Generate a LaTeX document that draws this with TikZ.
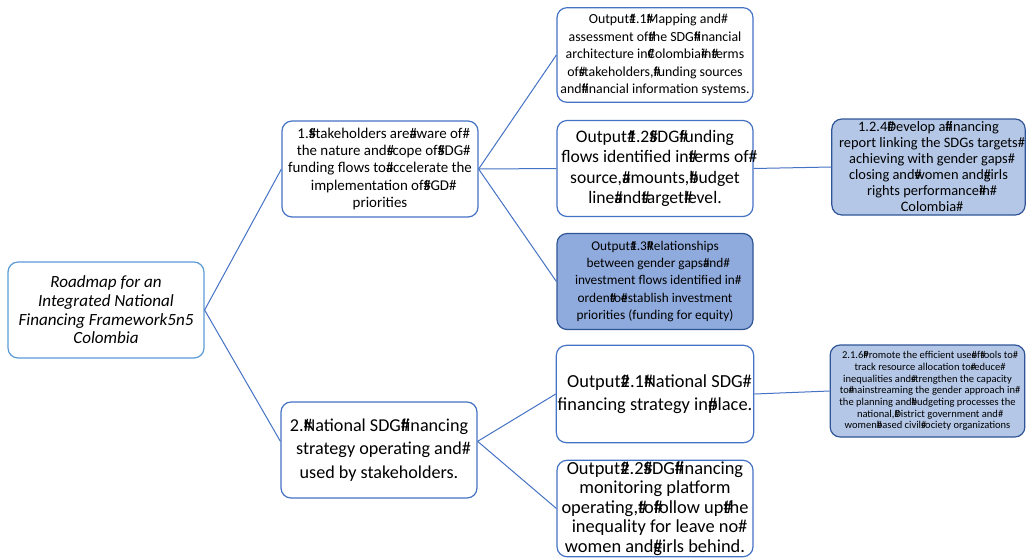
\documentclass[tikz,border=0pt]{standalone}
\usepackage{fontspec}
\setmainfont{Carlito}
\usetikzlibrary{positioning}
\definecolor{lineblue}{RGB}{68,114,196}
\definecolor{rootblue}{RGB}{91,155,213}
\definecolor{darkblue}{RGB}{47,85,151}
\definecolor{midfill}{RGB}{143,170,220}
\definecolor{lightfill}{RGB}{180,199,231}
\newcommand{\hx}{\rlap{\#}}

\begin{document}
\begin{tikzpicture}[x=0.75pt, y=-0.75pt,
    box/.style={draw=lineblue, line width=0.9pt, rounded corners=7.5pt, fill=white,
                align=center, inner sep=1pt, minimum width=147pt, minimum height=72pt},
    detail/.style={box, draw=darkblue, fill=lightfill},
    link/.style={draw=lineblue, line width=0.75pt}]
    \useasboundingbox (0,0) rectangle (1027,558);

    \node[box, draw=rootblue, font=\fontsize{12.8}{14}\selectfont\itshape] (root) at (106, 310)
        {Roadmap for an\\ Integrated National\\ Financing Framework5n5\\ Colombia};

    \node[box, font=\fontsize{11.2}{12.8}\selectfont] (res1) at (380, 169)
        {1.\hx Stakeholders are\hx aware of\hx\\ the nature and\hx scope of\hx SDG\hx\\ funding flows to\hx accelerate the\\ implementation of\hx SGD\hx\\ priorities};
    \node[box, font=\fontsize{13.6}{17.6}\selectfont] (res2) at (379, 450)
        {2.\hx National SDG\hx financing\\ strategy operating and\hx\\ used by stakeholders.};

    \node[box, minimum height=71pt, font=\fontsize{10.4}{13.1}\selectfont] (out11) at (655, 55)
        {Output\hx 1.1\hx Mapping and\hx\\ assessment of\hx the SDG\hx financial\\ architecture in\hx Colombia\hx in\hx terms\\ of\hx stakeholders,\hx funding sources\\ and\hx financial information systems.};
    \node[box, font=\fontsize{13.2}{15.4}\selectfont] (out12) at (655, 168.5)
        {Output\hx 1.2\hx SDG\hx funding\\ flows identified in\hx terms of\hx\\ source,\hx amounts,\hx budget\\ line\hx and\hx target\hx level.};
    \node[box, draw=darkblue, fill=midfill, font=\fontsize{10}{12.8}\selectfont] (out13) at (655, 281.5)
        {Output\hx 1.3\hx Relationships\\ between gender gaps\hx and\hx\\ investment flows identified in\hx\\ orden\hx to\hx establish investment\\ priorities (funding for equity)};
    \node[box, minimum height=73pt, font=\fontsize{13.8}{17.3}\selectfont] (out21) at (655, 394)
        {Output\hx 2.1\hx National SDG\hx\\ financing strategy in\hx place.};
    \node[box, minimum height=70pt, font=\fontsize{13.8}{14.6}\selectfont] (out22) at (655, 508.5)
        {Output\hx 2.2\hx SDG\hx financing\\ monitoring platform\\ operating,\hx to\hx follow up\hx the\\ inequality for leave no\hx\\ women and\hx girls behind.};

    \node[detail, minimum width=145pt, font=\fontsize{10.8}{12}\selectfont] (act124) at (928.5, 167)
        {1.2.4\hx Develop a\hx financing\\ report linking the SDGs targets\hx\\ achieving with gender gaps\hx\\ closing and\hx women and\hx girls\\ rights performance\hx in\hx\\ Colombia\hx};
    \node[detail, minimum width=146pt, minimum height=69pt, font=\fontsize{7.9}{8.8}\selectfont] (act216) at (927.5, 391)
        {2.1.6\hx Promote the efficient use\hx of\hx tools to\hx\\ track resource allocation to\hx reduce\hx\\ inequalities and\hx strengthen the capacity\\ to\hx mainstreaming the gender approach in\hx\\ the planning and\hx budgeting processes the\\ national,\hx District government and\hx\\ women\hx based civil\hx society organizations};

    % connectors
    \draw[link] (root.east) -- (res1.west);
    \draw[link] (root.east) -- ([yshift=6.5pt]res2.west);
    \draw[link] (res1.east) -- (out11.west);
    \draw[link] (res1.east) -- (out12.west);
    \draw[link] (res1.east) -- (out13.west);
    \draw[link] ([yshift=6.5pt]res2.east) -- (out21.west);
    \draw[link] ([yshift=6.5pt]res2.east) -- (out22.west);
    \draw[link] (out12.east) -- (act124.west);
    \draw[link] (out21.east) -- (act216.west);
\end{tikzpicture}
\end{document}
